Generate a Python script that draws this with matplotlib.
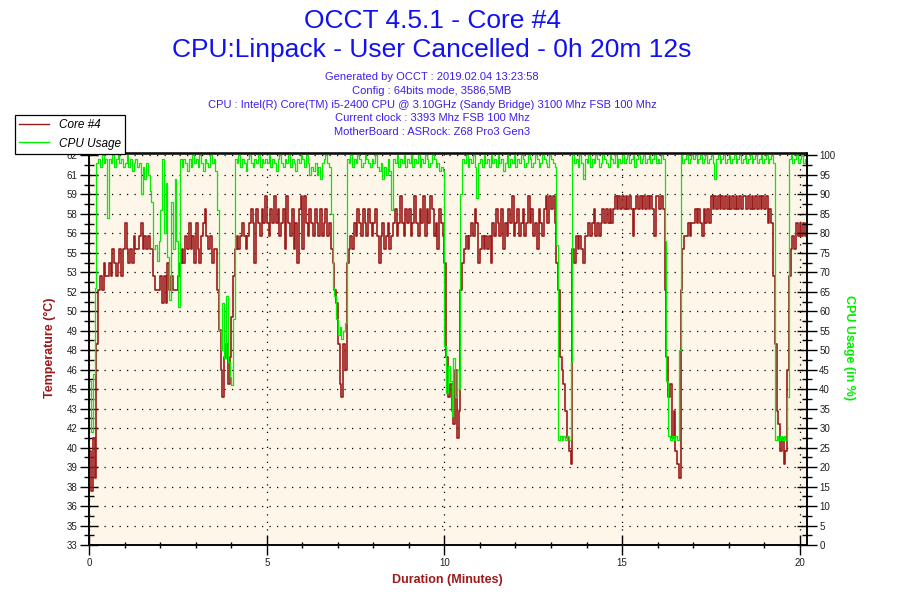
import numpy as np
import matplotlib
matplotlib.use('Agg')
import matplotlib.pyplot as plt

plt.rcParams['font.family'] = ['Liberation Sans', 'DejaVu Sans']

# one reading every 0.05 minutes (3 s), 0 .. 20.2 min
sample_step = 0.05

core_temp = [
    40, 37, 41, 38, 48, 52, 53, 52, 54, 53, 53, 54, 53, 55, 54, 53, 54, 55, 53, 55,
    57, 55, 54, 55, 54, 56, 55, 55, 56, 57, 55, 56, 55, 56, 55, 55, 53, 52, 52, 52,
    53, 51, 53, 51, 54, 52, 53, 52, 52, 52, 53, 54, 55, 54, 56, 55, 57, 55, 56, 54,
    57, 55, 54, 56, 57, 58, 56, 55, 56, 54, 55, 55, 52, 49, 46, 44, 47, 48, 45, 47,
    50, 53, 55, 56, 55, 56, 57, 56, 55, 56, 57, 58, 57, 54, 58, 57, 56, 58, 57, 59,
    57, 56, 58, 57, 59, 57, 58, 56, 57, 58, 55, 59, 57, 56, 58, 55, 57, 54, 58, 59,
    55, 59, 57, 56, 58, 57, 56, 58, 57, 56, 58, 56, 57, 58, 56, 57, 55, 54, 52, 51,
    48, 45, 44, 48, 46, 54, 55, 56, 55, 57, 56, 58, 57, 56, 58, 57, 56, 58, 57, 56,
    57, 58, 56, 54, 56, 57, 55, 56, 57, 55, 56, 57, 58, 56, 57, 59, 57, 56, 58, 57,
    58, 56, 57, 59, 57, 56, 58, 57, 59, 56, 58, 57, 59, 58, 56, 57, 55, 58, 57, 56,
    54, 47, 44, 45, 43, 42, 46, 41, 43, 52, 54, 55, 56, 55, 56, 57, 56, 58, 57, 54,
    55, 56, 55, 56, 55, 56, 54, 57, 56, 58, 57, 56, 58, 55, 57, 56, 58, 57, 59, 56,
    57, 58, 56, 57, 58, 56, 57, 59, 57, 58, 56, 57, 55, 58, 57, 56, 58, 59, 57, 59,
    58, 59, 57, 54, 52, 47, 46, 45, 43, 41, 40, 39, 55, 54, 56, 55, 56, 55, 54, 56,
    56, 57, 56, 57, 58, 56, 57, 56, 57, 58, 57, 58, 57, 58, 57, 58, 59, 58, 59, 58,
    59, 58, 59, 58, 59, 58, 56, 58, 59, 58, 59, 58, 59, 58, 59, 58, 59, 58, 56, 59,
    59, 58, 59, 58, 52, 47, 44, 45, 41, 43, 40, 39, 38, 52, 55, 56, 56, 57, 56, 57,
    57, 58, 57, 58, 57, 56, 58, 57, 58, 57, 59, 58, 59, 58, 59, 58, 59, 58, 59, 58,
    59, 58, 59, 58, 59, 58, 59, 58, 59, 59, 58, 59, 58, 59, 58, 59, 58, 59, 58, 59,
    58, 59, 57, 58, 57, 53, 48, 43, 42, 40, 41, 39, 40, 46, 53, 55, 56, 55, 57, 56,
    57, 56, 57, 56, 57,
]

cpu_usage = [
    42, 29, 44, 66, 98, 99, 97, 100, 98, 99, 84, 99, 98, 100, 97, 99, 100, 98, 99, 97,
    98, 100, 97, 99, 96, 98, 99, 97, 98, 90, 97, 94, 98, 95, 91, 88, 76, 77, 73, 78,
    86, 99, 80, 93, 74, 63, 88, 76, 94, 78, 61, 99, 97, 99, 98, 96, 99, 97, 100, 98,
    99, 97, 100, 98, 96, 99, 98, 97, 100, 98, 99, 96, 86, 55, 50, 62, 48, 64, 47, 43,
    41, 58, 99, 98, 100, 97, 99, 98, 96, 99, 100, 98, 97, 99, 98, 100, 97, 99, 98, 99,
    98, 100, 97, 99, 98, 96, 99, 100, 98, 97, 99, 98, 100, 97, 99, 98, 96, 99, 98, 100,
    99, 97, 100, 98, 95, 97, 96, 98, 95, 97, 94, 98, 99, 100, 98, 97, 85, 66, 64, 58,
    54, 56, 53, 55, 57, 99, 98, 100, 97, 99, 98, 100, 99, 97, 98, 100, 99, 98, 97, 99,
    98, 100, 97, 96, 98, 94, 97, 95, 99, 96, 86, 99, 98, 100, 97, 99, 98, 100, 97, 99,
    98, 100, 97, 99, 98, 100, 97, 99, 98, 100, 99, 97, 98, 100, 99, 97, 98, 96, 97, 96,
    51, 39, 46, 42, 33, 48, 38, 45, 40, 90, 99, 98, 100, 97, 99, 98, 100, 97, 89, 98,
    99, 97, 100, 98, 99, 97, 100, 98, 99, 97, 100, 98, 99, 96, 98, 100, 97, 99, 98, 100,
    97, 99, 98, 100, 99, 97, 98, 100, 99, 97, 98, 100, 99, 97, 98, 100, 99, 98, 97, 100,
    99, 98, 97, 77, 27, 28, 27, 28, 27, 28, 27, 47, 100, 98, 99, 97, 100, 98, 94, 99,
    98, 100, 97, 99, 98, 100, 99, 97, 98, 100, 99, 98, 97, 100, 99, 98, 100, 97, 99, 98,
    100, 98, 99, 100, 98, 99, 100, 97, 99, 100, 98, 99, 100, 98, 99, 100, 98, 99, 100, 98,
    99, 98, 100, 99, 78, 42, 28, 27, 28, 27, 28, 27, 50, 100, 98, 99, 100, 98, 99, 100,
    99, 100, 98, 99, 100, 98, 99, 100, 98, 99, 100, 98, 94, 99, 100, 98, 99, 100, 98, 99,
    100, 98, 99, 100, 98, 99, 100, 98, 99, 100, 98, 99, 100, 98, 99, 100, 98, 99, 100, 98,
    99, 100, 98, 99, 100, 98, 27, 28, 27, 28, 27, 28, 27, 38, 99, 100, 98, 99, 100, 98,
    99, 100, 98, 99, 100,
]

temp_labels = ['33', '35', '36', '38', '39', '40', '42', '43', '45', '46', '48',
               '49', '50', '52', '53', '55', '56', '58', '59', '61', '62']
x_labels = ['0', '5', '10', '15', '20']

title = 'OCCT 4.5.1 - Core #4'
subtitle = 'CPU:Linpack - User Cancelled - 0h 20m 12s'
info_lines = [
    'Generated by OCCT : 2019.02.04 13:23:58',
    'Config : 64bits mode, 3586,5MB',
    'CPU : Intel(R) Core(TM) i5-2400 CPU @ 3.10GHz (Sandy Bridge) 3100 Mhz FSB 100 Mhz',
    'Current clock : 3393 Mhz FSB 100 Mhz',
    'MotherBoard : ASRock: Z68 Pro3 Gen3',
]

red = '#9c1a1a'
green = '#00ee00'
blue = '#1212f0'
info_blue = '#3c1ee8'

minutes = np.arange(len(core_temp)) * sample_step

W, H = 900, 600
fig = plt.figure(figsize=(9, 6), dpi=100)
ax = fig.add_axes([89.3 / W, 55 / H, (806.7 - 89.3) / W, (545 - 153.5) / H])
ax.set_facecolor('#fdf6e9')

cpu_top = 100.5
ax.set_xlim(0, 20.2)
ax.set_ylim(33, 33 + 29 * cpu_top / 100)

l1, = ax.plot(minutes, core_temp, color=red, lw=1.2, drawstyle='steps-post')

ax2 = ax.twinx()
ax2.set_ylim(0, cpu_top)
l2, = ax2.plot(minutes, cpu_usage, color=green, lw=0.9, drawstyle='steps-post')

# ticks
temp_ticks = np.linspace(33, 62, len(temp_labels))
ax.set_yticks(temp_ticks)
ax.set_yticklabels(temp_labels)
ax.set_yticks((temp_ticks[:-1] + temp_ticks[1:]) / 2, minor=True)
ax.set_xticks([0, 5, 10, 15, 20])
ax.set_xticklabels(x_labels)
ax.set_xticks(range(0, 21), minor=True)
ax2.set_yticks(range(0, 101, 5))
ax2.set_yticks(np.arange(2.5, 100, 5), minor=True)

tick_col = '#202020'
ax.tick_params(axis='x', which='major', direction='inout', length=15, width=1,
               labelsize=7, labelcolor=tick_col, pad=2)
ax.tick_params(axis='x', which='minor', direction='inout', length=5, width=1)
ax.tick_params(axis='y', which='major', direction='inout', length=13, width=1,
               labelsize=7, labelcolor=tick_col, pad=2)
ax.tick_params(axis='y', which='minor', direction='inout', length=6.5, width=1)
ax2.tick_params(axis='y', which='major', direction='inout', length=14, width=1,
                labelsize=7, labelcolor=tick_col, pad=2)
ax2.tick_params(axis='y', which='minor', direction='inout', length=6.5, width=1)

for a in (ax, ax2):
    for s in a.spines.values():
        s.set_linewidth(1.1)

ax.set_axisbelow(True)
ax.grid(True, which='major', color='black', lw=0.9, linestyle=(0, (1, 5)))

# texts
cx = 432 / W
fig.text(cx, 1 - 21.5 / H, title, ha='center', va='center', fontsize=19, color=blue)
fig.text(cx, 1 - 50 / H, subtitle, ha='center', va='center', fontsize=19, color=blue)
for i, line in enumerate(info_lines):
    fig.text(cx, 1 - (77.3 + 13.7 * i) / H, line, ha='center', va='center',
             fontsize=8, color=info_blue)

fig.text(50 / W, 1 - 348 / H, 'Temperature (°C)', rotation=90, ha='center',
         va='center', fontsize=9, fontweight='bold', color=red)
fig.text(849 / W, 1 - 348 / H, 'CPU Usage (in %)', rotation=270, ha='center',
         va='center', fontsize=9, fontweight='bold', color=green)
fig.text(447 / W, 1 - 580 / H, 'Duration (Minutes)', ha='center', va='center',
         fontsize=9, fontweight='bold', color=red)

leg = fig.legend([l1, l2], ['Core #4', 'CPU Usage'], loc='upper left',
                 bbox_to_anchor=(15 / W, 1 - 115 / H), borderaxespad=0,
                 frameon=True, fancybox=False, edgecolor='black', framealpha=1,
                 prop={'style': 'italic', 'size': 8.5}, handlelength=2.5,
                 handletextpad=0.9, labelspacing=0.55, borderpad=0.35)
leg.get_frame().set_linewidth(0.9)
for h in leg.legend_handles:
    h.set_linewidth(1.0)

fig.savefig('out.png', dpi=100)
